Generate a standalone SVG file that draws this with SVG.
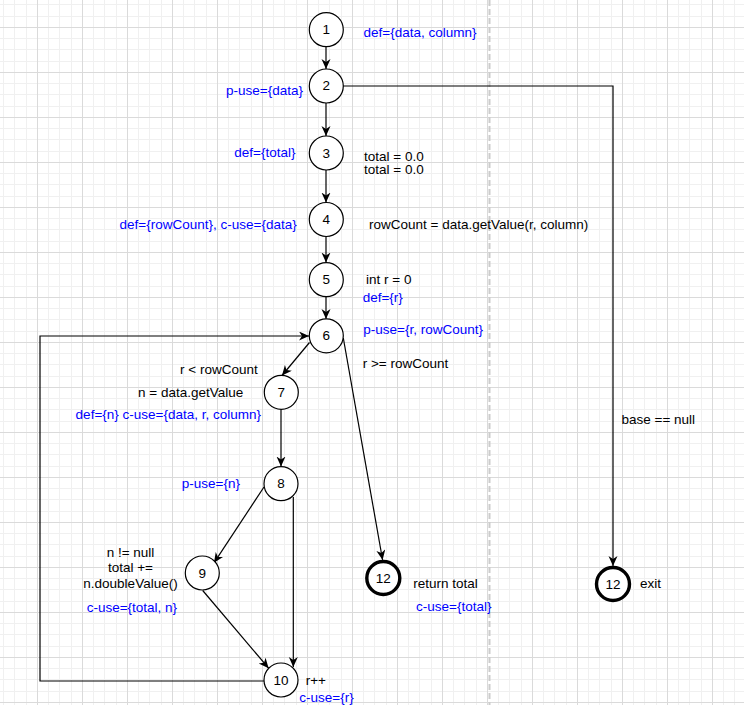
<svg xmlns="http://www.w3.org/2000/svg" width="744" height="705" viewBox="0 0 744 705">
  <defs>
    <!-- background grid: major every 45px, minor every ~11.25px -->
    <pattern id="grid" x="37" y="27" width="45" height="45" patternUnits="userSpaceOnUse">
      <rect x="11" y="0" width="1" height="45" fill="#f0f0f0"/>
      <rect x="22" y="0" width="1" height="45" fill="#f0f0f0"/>
      <rect x="34" y="0" width="1" height="45" fill="#f0f0f0"/>
      <rect x="0" y="11" width="45" height="1" fill="#f0f0f0"/>
      <rect x="0" y="22" width="45" height="1" fill="#f0f0f0"/>
      <rect x="0" y="34" width="45" height="1" fill="#f0f0f0"/>
      <rect x="0" y="0" width="1" height="45" fill="#dadada"/>
      <rect x="0" y="0" width="45" height="1" fill="#dadada"/>
    </pattern>
    <marker id="arrow" markerUnits="userSpaceOnUse" markerWidth="11" markerHeight="10" refX="10" refY="4.5" orient="auto" viewBox="0 0 11 10">
      <path d="M0,0 L10,4.5 L0,9 L3,4.5 Z" fill="#000"/>
    </marker>
  </defs>
  <style>
    text { font-family: "Liberation Sans", Arial, sans-serif; font-size: 13.5px; fill: #000; }
    .blue { fill: #0000ff; }
    .num { text-anchor: middle; }
    .end { text-anchor: end; }
    .mid { text-anchor: middle; }
    .node { fill: #fff; stroke: #000; stroke-width: 1.2; }
    .term { fill: #fff; stroke: #000; stroke-width: 3.4; }
    .edge { fill: none; stroke: #000; stroke-width: 1.2; }
    .arr { marker-end: url(#arrow); }
  </style>

  <rect x="0" y="0" width="744" height="705" fill="#fff"/>
  <rect x="0" y="0" width="744" height="705" fill="url(#grid)"/>
  <!-- page break -->
  <line x1="489.5" y1="0" x2="489.5" y2="705" stroke="#cccccc" stroke-width="2" stroke-dasharray="6 3"/>

  <g id="connectors">
    <path class="edge arr" d="M326,47 L326,69"/>
    <path class="edge arr" d="M326,103 L326,136"/>
    <path class="edge arr" d="M326,170 L326,202.5"/>
    <path class="edge arr" d="M326,236.5 L326,262.5"/>
    <path class="edge arr" d="M326,296.5 L326,319"/>
    <path class="edge arr" d="M343,86 L613,86 L613,566"/>
    <path class="edge arr" d="M309.5,342.5 L282,375.5"/>
    <path class="edge arr" d="M343.3,338 L382.6,560"/>
    <path class="edge arr" d="M281,409.5 L281,466.5"/>
    <path class="edge arr" d="M264,487 L214,562.8"/>
    <path class="edge arr" d="M293.3,497 L293.3,667"/>
    <path class="edge arr" d="M202.7,590.5 L268.6,668.2"/>
    <path class="edge arr" d="M264,681 L40,681 L40,336 L309,336"/>
    <text x="621.5" y="423.5">base == null</text>
    <text x="362.7" y="367.5">r &gt;= rowCount</text>
    <text x="257.7" y="374" class="end">r &lt; rowCount</text>
  </g>

  <g id="node1">
    <circle class="node" cx="326.3" cy="29.7" r="17"/>
    <text x="326.3" y="34" class="num">1</text>
    <text x="363.5" y="37" class="blue">def={data, column}</text>
  </g>
  <g id="node2">
    <circle class="node" cx="326.3" cy="86" r="17"/>
    <text x="326.3" y="90" class="num">2</text>
    <text x="303" y="95" class="blue end">p-use={data}</text>
  </g>
  <g id="node3">
    <circle class="node" cx="326.3" cy="153" r="17"/>
    <text x="326.3" y="157.5" class="num">3</text>
    <text x="295.5" y="157" class="blue end">def={total}</text>
    <text x="364" y="160.5">total = 0.0</text>
    <text x="364" y="174">total = 0.0</text>
  </g>
  <g id="node4">
    <circle class="node" cx="326.3" cy="219.5" r="17"/>
    <text x="326.3" y="224" class="num">4</text>
    <text x="296.7" y="229" class="blue end">def={rowCount}, c-use={data}</text>
    <text x="369" y="228.5">rowCount = data.getValue(r, column)</text>
  </g>
  <g id="node5">
    <circle class="node" cx="326.3" cy="279.7" r="17"/>
    <text x="326.3" y="284" class="num">5</text>
    <text x="366" y="283.5">int r = 0</text>
    <text x="362.7" y="301.5" class="blue">def={r}</text>
  </g>
  <g id="node6">
    <circle class="node" cx="326.3" cy="335.8" r="17"/>
    <text x="326.3" y="340.3" class="num">6</text>
    <text x="363.3" y="333.8" class="blue">p-use={r, rowCount}</text>
  </g>
  <g id="node7">
    <circle class="node" cx="281.3" cy="392.3" r="17"/>
    <text x="281.3" y="396.8" class="num">7</text>
    <text x="243.3" y="396.5" class="end">n = data.getValue</text>
    <text x="261" y="419" class="blue end">def={n} c-use={data, r, column}</text>
  </g>
  <g id="node8">
    <circle class="node" cx="281" cy="483.7" r="17"/>
    <text x="281" y="488" class="num">8</text>
    <text x="240" y="488" class="blue end">p-use={n}</text>
  </g>
  <g id="node9">
    <circle class="node" cx="202.3" cy="573" r="17"/>
    <text x="202.3" y="577.5" class="num">9</text>
    <text x="130.5" y="556.5" class="mid">n != null</text>
    <text x="130.5" y="572" class="mid">total +=</text>
    <text x="130.5" y="587.5" class="mid">n.doubleValue()</text>
    <text x="86.7" y="611.5" class="blue">c-use={total, n}</text>
  </g>
  <g id="node10">
    <circle class="node" cx="281" cy="680" r="17"/>
    <text x="281" y="685" class="num">10</text>
    <text x="305.7" y="684.5">r++</text>
    <text x="299.3" y="701.5" class="blue">c-use={r}</text>
  </g>
  <g id="node12-return">
    <circle class="term" cx="383.3" cy="578" r="16.5"/>
    <text x="383.3" y="583" class="num">12</text>
    <text x="413.3" y="588">return total</text>
    <text x="416" y="611" class="blue">c-use={total}</text>
  </g>
  <g id="node12-exit">
    <circle class="term" cx="613" cy="584" r="16.5"/>
    <text x="613" y="589" class="num">12</text>
    <text x="640" y="588">exit</text>
  </g>
</svg>
